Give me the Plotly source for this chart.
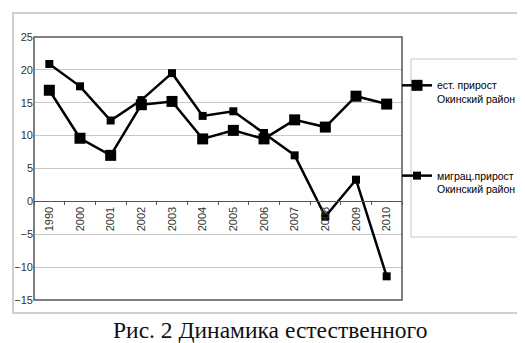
import plotly.graph_objects as go

years = ["1990", "2000", "2001", "2002", "2003", "2004", "2005", "2006", "2007", "2008", "2009", "2010"]
natural_growth = [16.9, 9.6, 7.0, 14.7, 15.2, 9.5, 10.8, 9.5, 12.4, 11.3, 16.0, 14.8]
migration_growth = [20.9, 17.5, 12.3, 15.4, 19.5, 13.0, 13.7, 10.4, 7.0, -2.3, 3.3, -11.4]
series_names = ["ест. прирост<br>Окинский район", "миграц.прирост<br>Окинский район"]
y_ticks = [-15, -10, -5, 0, 5, 10, 15, 20, 25]
caption = "Рис. 2 Динамика естественного"

fig = go.Figure()
fig.add_trace(go.Scatter(
    x=years, y=natural_growth, name=series_names[0], mode="lines+markers",
    line=dict(color="black", width=2.5),
    marker=dict(symbol="square", size=11, color="black"),
    legendgroup="a",
))
fig.add_trace(go.Scatter(
    x=years, y=migration_growth, name=series_names[1], mode="lines+markers",
    line=dict(color="black", width=2.5),
    marker=dict(symbol="square", size=8, color="black"),
    legendgroup="b",
))

L, R, T, B = 26, 131, 29, 51
W, H = 525, 343
pw, ph = W - L - R, H - T - B

def px(x):
    return (x - L) / pw

def py(y):
    return (H - B - y) / ph

fig.update_layout(
    width=W, height=H,
    margin=dict(l=L, r=R, t=T, b=B, autoexpand=False),
    paper_bgcolor="white", plot_bgcolor="white",
    font=dict(family="Liberation Sans, Arial, sans-serif", color="#222"),
    showlegend=True,
    legend=dict(
        x=px(389), y=py(64), xanchor="left", yanchor="top",
        font=dict(family="Liberation Sans, Arial, sans-serif", size=10.5, color="black"),
        tracegroupgap=60, itemwidth=30, valign="top",
        bgcolor="rgba(0,0,0,0)",
    ),
    xaxis=dict(
        type="category", anchor="free", position=0.375, automargin=False,
        showline=True, linecolor="#555", linewidth=1,
        ticks="outside", ticklen=3, tickcolor="#555", tickson="boundaries",
        tickangle=-90, tickfont=dict(size=11, color="#333"),
        showgrid=False, range=[-0.5, 11.5],
    ),
    yaxis=dict(
        range=[-15, 25], tickvals=y_ticks, showgrid=True, gridcolor="#c8c8c8",
        gridwidth=1, zeroline=False, tickfont=dict(size=11, color="#333"),
        ticks="", showline=False, automargin=False,
    ),
    shapes=[
        dict(type="rect", xref="paper", yref="paper",
             x0=px(5), x1=px(519), y0=py(305), y1=py(5),
             line=dict(color="#cfcfcf", width=2), layer="below"),
        dict(type="rect", xref="paper", yref="paper",
             x0=0, x1=1, y0=0, y1=1,
             line=dict(color="#555", width=1.5), layer="above"),
        dict(type="rect", xref="paper", yref="paper",
             x0=px(403), x1=px(518), y0=py(229), y1=py(51),
             line=dict(color="#c8c8c8", width=1), layer="below"),
    ],
    annotations=[
        dict(text=caption, xref="paper", yref="paper",
             x=px(262), y=py(322), xanchor="center", yanchor="middle",
             showarrow=False,
             font=dict(family="Liberation Serif, Times New Roman, serif", size=23.5, color="#111")),
    ],
)

fig.write_html("out.html")
